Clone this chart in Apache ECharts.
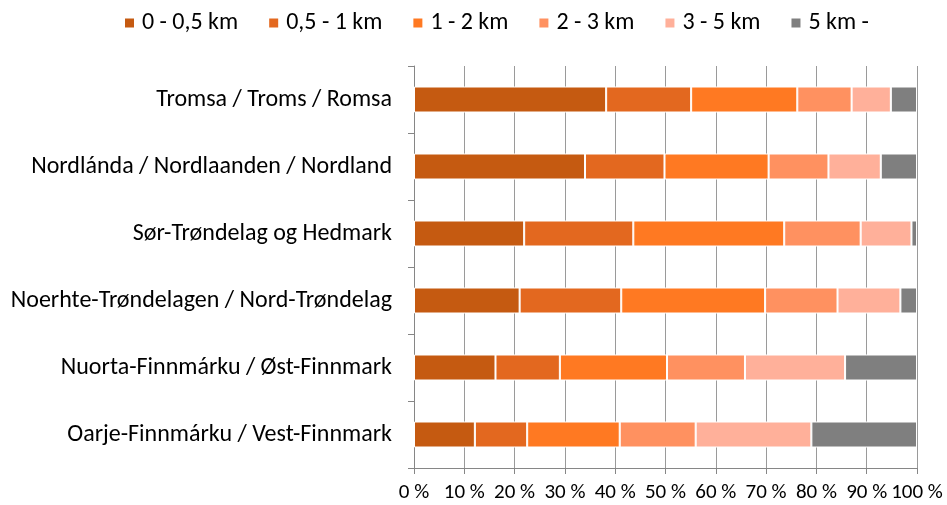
<!DOCTYPE html>
<html>
<head>
<meta charset="utf-8">
<script src="https://cdn.jsdelivr.net/npm/echarts@6/dist/echarts.min.js"></script>
<style>
  html, body { margin: 0; padding: 0; background: #fff; }
  #chart { width: 947px; height: 505px; }
</style>
</head>
<body>
<div id="chart"></div>
<script>
// regions, top to bottom
var regions = [
  "Tromsa / Troms / Romsa",
  "Nordlánda / Nordlaanden / Nordland",
  "Sør-Trøndelag og Hedmark",
  "Noerhte-Trøndelagen / Nord-Trøndelag",
  "Nuorta-Finnmárku / Øst-Finnmark",
  "Oarje-Finnmárku / Vest-Finnmark"
];
var distances = ["0 - 0,5 km", "0,5 - 1 km", "1 - 2 km", "2 - 3 km", "3 - 5 km", "5 km -"];
var colors = ["#C55A11", "#E3681F", "#FF7922", "#FF9160", "#FFB09A", "#7F7F7F"];

// share (%) per distance band, same order as regions
var d0 = [38.2, 34.0, 21.9, 21.0, 16.2, 12.1];
var d1 = [16.9, 15.8, 21.7, 20.2, 12.8, 10.4];
var d2 = [21.1, 20.7, 30.0, 28.6, 21.3, 18.4];
var d3 = [10.8, 11.9, 15.2, 14.4, 15.5, 15.1];
var d4 = [7.8, 10.4, 10.1, 12.5, 19.9, 23.0];
var d5 = [5.2, 7.2, 1.1, 3.3, 14.3, 21.0];
var bands = [d0, d1, d2, d3, d4, d5];

var font = "Carlito, Calibri, Lato, sans-serif";

var chart = echarts.init(document.getElementById("chart"), null, { renderer: "canvas" });

var series = [];
for (var i = 0; i < distances.length; i++) {
  series.push({
    name: distances[i],
    type: "bar",
    stack: "total",
    barWidth: 26,
    data: bands[i],
    itemStyle: { color: colors[i], borderColor: "#fff", borderWidth: 1 }
  });
}

var option = {
  animation: false,
  color: colors,
  legend: {
    top: 6,
    left: 118,
    icon: "rect",
    itemWidth: 11,
    itemHeight: 11,
    itemGap: 29,
    textStyle: { fontFamily: font, fontSize: 24, color: "#000", padding: [0, 0, 0, 2] },
    data: distances
  },
  grid: { left: 414, right: 30, top: 66, bottom: 37, containLabel: false },
  xAxis: {
    type: "value",
    min: 0,
    max: 100,
    interval: 10,
    axisLine: { show: true, lineStyle: { color: "#868686" } },
    axisTick: { show: true, length: 6, lineStyle: { color: "#868686" } },
    axisLabel: { formatter: "{value} %", fontFamily: font, fontSize: 21, color: "#000", margin: 14 },
    splitLine: { show: true, lineStyle: { color: "#9a9a9a" } }
  },
  yAxis: {
    type: "category",
    inverse: true,
    data: regions,
    axisLine: { show: true, lineStyle: { color: "#868686" } },
    axisTick: { show: true, length: 6, lineStyle: { color: "#868686" } },
    axisLabel: { fontFamily: font, fontSize: 24, color: "#000", margin: 22 }
  },
  series: series
};
chart.setOption(option);
</script>
</body>
</html>
